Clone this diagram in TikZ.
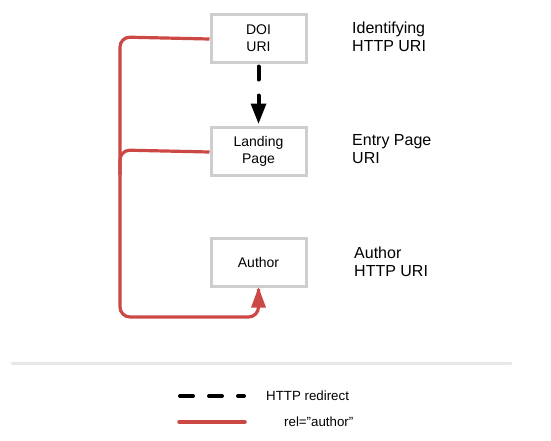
\documentclass[tikz,border=0pt]{standalone}
\usepackage{fontspec}
\setmainfont{Liberation Sans}
\usetikzlibrary{arrows.meta}
\definecolor{redl}{RGB}{204,72,68}
\definecolor{boxgray}{RGB}{206,206,206}
\definecolor{sepgray}{RGB}{232,232,232}
\begin{document}
\begin{tikzpicture}[x=1pt,y=-1pt,
  box/.style={draw=boxgray,line width=3pt,minimum width=95pt,minimum height=48pt,inner sep=0pt,align=center,font=\fontsize{14}{17}\selectfont},
  lab/.style={anchor=west,align=left,font=\fontsize{16}{18.5}\selectfont,inner sep=0pt},
  redline/.style={draw=redl,line width=3.2pt,rounded corners=10pt},
  redir/.style={draw=black,line width=4pt,line cap=round,dash pattern=on 13pt off 16pt},
  legtext/.style={anchor=west,inner sep=0pt,font=\fontsize{13.3}{15}\selectfont}]
\useasboundingbox (0,0) rectangle (551,440);
\node[box] (doi) at (258.5,38) {DOI\\URI};
\node[box] (land) at (258.5,151) {Landing\\Page};
\node[box] (auth) at (258.5,262) {Author};
\node[lab] (l1) at (352,37) {Identifying\\HTTP URI};
\node[lab] (l2) at (352,149) {Entry Page\\URI};
\node[lab] (l3) at (354,262) {Author\\HTTP URI};
\coordinate (cA) at (120,37);
\coordinate (cB) at (120,317);
\coordinate (cC) at (258.5,317);
\coordinate (cL) at (120,150);
\coordinate (cL2) at (120,175);
\draw[redline] ([yshift=-1pt]doi.west) -- (cA) -- (cB) -- (cC) -- ([yshift=-1.5pt]auth.south);
\draw[redline] ([yshift=-1pt]land.west) -- (cL) -- (cL2);
\fill[redl] (auth.south) -- ++(-7.5,20) -- ++(15,0) -- cycle;
\draw[redir] ([yshift=-3pt]doi.south) -- ([yshift=20pt]land.north);
\fill[black] ([yshift=2pt]land.north) -- ++(-8,-20) -- ++(16,0) -- cycle;
% legend
\coordinate (s1) at (12,363);
\coordinate (s2) at (511,363);
\draw[sepgray,line width=3pt,line cap=round] (s1) -- (s2);
\coordinate (d1) at (180,396);
\coordinate (d2) at (244,396);
\draw[redir] (d1) -- (d2);
\node[legtext] (t1) at (266,396) {HTTP redirect};
\coordinate (r1) at (179,422);
\coordinate (r2) at (245,422);
\draw[redl,line width=3.5pt,line cap=round] (r1) -- (r2);
\node[legtext] (t2) at (284,422) {rel=\symbol{34}author\symbol{34}};
\end{tikzpicture}
\end{document}
